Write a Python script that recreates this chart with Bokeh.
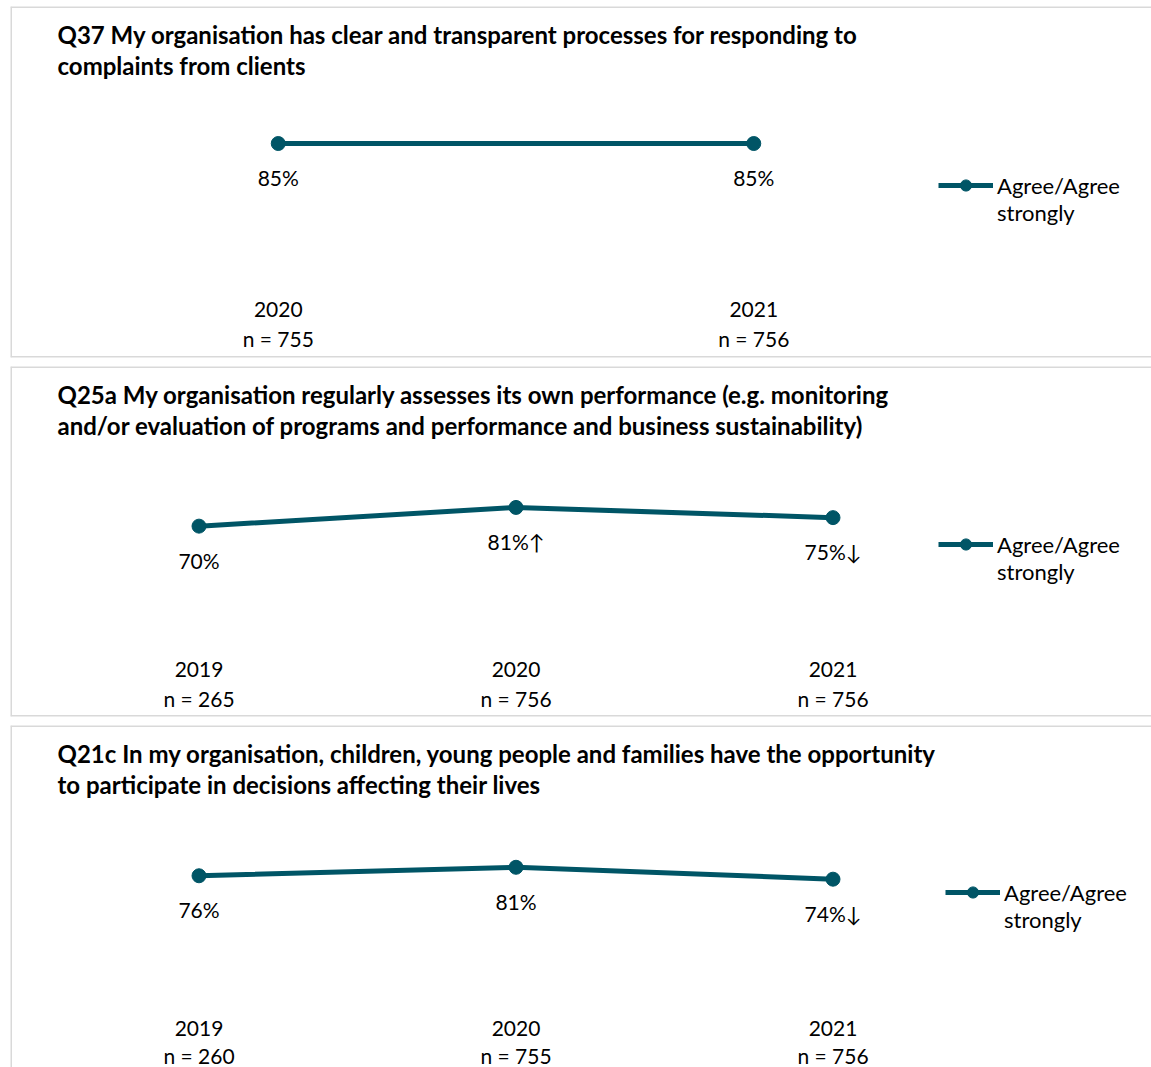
from bokeh.plotting import figure
from bokeh.models import Range1d, Legend, LegendItem, Span
from bokeh.layouts import column
from bokeh.embed import file_html
from bokeh.resources import INLINE
from bokeh.core.properties import value

FONT = "Lato"
TEAL = "#005566"
BORDER = "#d9d9d9"
SERIES = " \nAgree/Agree\nstrongly"

q37_title = ["Q37 My organisation has clear and transparent processes for responding to",
             "complaints from clients"]
q37_years = [2020, 2021]
q37_n = [755, 756]
q37_values = [85, 85]
q37_sig = ["", ""]

q25a_title = ["Q25a My organisation regularly assesses its own performance (e.g. monitoring",
              "and/or evaluation of programs and performance and business sustainability)"]
q25a_years = [2019, 2020, 2021]
q25a_n = [265, 756, 756]
q25a_values = [70, 81, 75]
q25a_sig = ["", "\u2191", "\u2193"]

q21c_title = ["Q21c In my organisation, children, young people and families have the opportunity",
              "to participate in decisions affecting their lives"]
q21c_years = [2019, 2020, 2021]
q21c_n = [260, 755, 756]
q21c_values = [76, 81, 74]
q21c_sig = ["", "", "\u2193"]


def panel(title_lines, years, ns, values, sig, top_gap, frame_h, bottom_gap,
          legend_x, legend_cy, y_end, bottom_edge, n_offset=332):
    frame_w = 1141
    height = top_gap + frame_h + bottom_gap
    plot_left, plot_right = 30, 981
    band = (plot_right - plot_left) / len(years)
    x_start = years[0] - 0.5 - plot_left / band
    x_end = x_start + frame_w / band
    px = 1.7
    y_start = y_end - frame_h / px

    p = figure(width=1151, height=height, x_range=Range1d(x_start, x_end),
               y_range=Range1d(y_start, y_end), x_axis_type=None, y_axis_type=None,
               output_backend="svg", toolbar_location=None,
               min_border_left=10, min_border_right=0, min_border_top=top_gap,
               min_border_bottom=bottom_gap)
    p.grid.visible = False
    p.outline_line_color = None
    p.background_fill_color = "white"

    p.add_layout(Span(location=y_end, dimension="width", line_color=BORDER, line_width=3))
    p.add_layout(Span(location=x_start, dimension="height", line_color=BORDER, line_width=3))
    if bottom_edge:
        p.add_layout(Span(location=y_start, dimension="width", line_color=BORDER, line_width=3))

    for i, line in enumerate(title_lines):
        p.text(x=[x_start], y=[y_end], text=[line], x_offset=47, y_offset=28 + 31 * i,
               text_font=value(FONT), text_font_style="bold", text_font_size="24px",
               text_align="left", text_baseline="middle", text_color="black")

    ln = p.line(years, values, line_width=5, line_color=TEAL)
    sc = p.scatter(years, values, size=14, fill_color=TEAL, line_color=TEAL)

    labels = [f"{v}%{s}" for v, s in zip(values, sig)]
    p.text(x=years, y=values, text=labels, y_offset=34, text_font=value(FONT),
           text_font_size="21px", text_align="center", text_baseline="middle",
           text_color="black")
    p.text(x=years, y=[y_end] * len(years), text=[str(y) for y in years], y_offset=303,
           text_font=value(FONT), text_font_size="21px", text_align="center",
           text_baseline="middle", text_color="black")
    p.text(x=years, y=[y_end] * len(years), text=[f"n = {n}" for n in ns], y_offset=n_offset,
           text_font=value(FONT), text_font_size="21px", text_align="center",
           text_baseline="middle", text_color="black")

    item_h = 3 * 1.2 * 22
    legend = Legend(items=[LegendItem(label=SERIES, renderers=[ln, sc])],
                    location=(legend_x, frame_h - (legend_cy + item_h / 2)),
                    glyph_width=55, glyph_height=28, label_standoff=4, padding=0,
                    margin=0, spacing=0, border_line_color=None,
                    background_fill_alpha=0, label_text_font=FONT,
                    label_text_font_size="22px", label_text_color="black")
    p.add_layout(legend)
    return p


p1 = panel(q37_title, q37_years, q37_n, q37_values, q37_sig, 6, 351, 9, 928, 180, 165.6, True)
p2 = panel(q25a_title, q25a_years, q25a_n, q25a_values, q25a_sig, 0, 350, 9, 928, 179, 163.9, True)
p3 = panel(q21c_title, q21c_years, q21c_n, q21c_values, q21c_sig, 0, 342, 0, 935, 168, 164.4, False, 330)

page = column(p1, p2, p3, spacing=0)
open("out.html", "w").write(file_html(page, INLINE))
